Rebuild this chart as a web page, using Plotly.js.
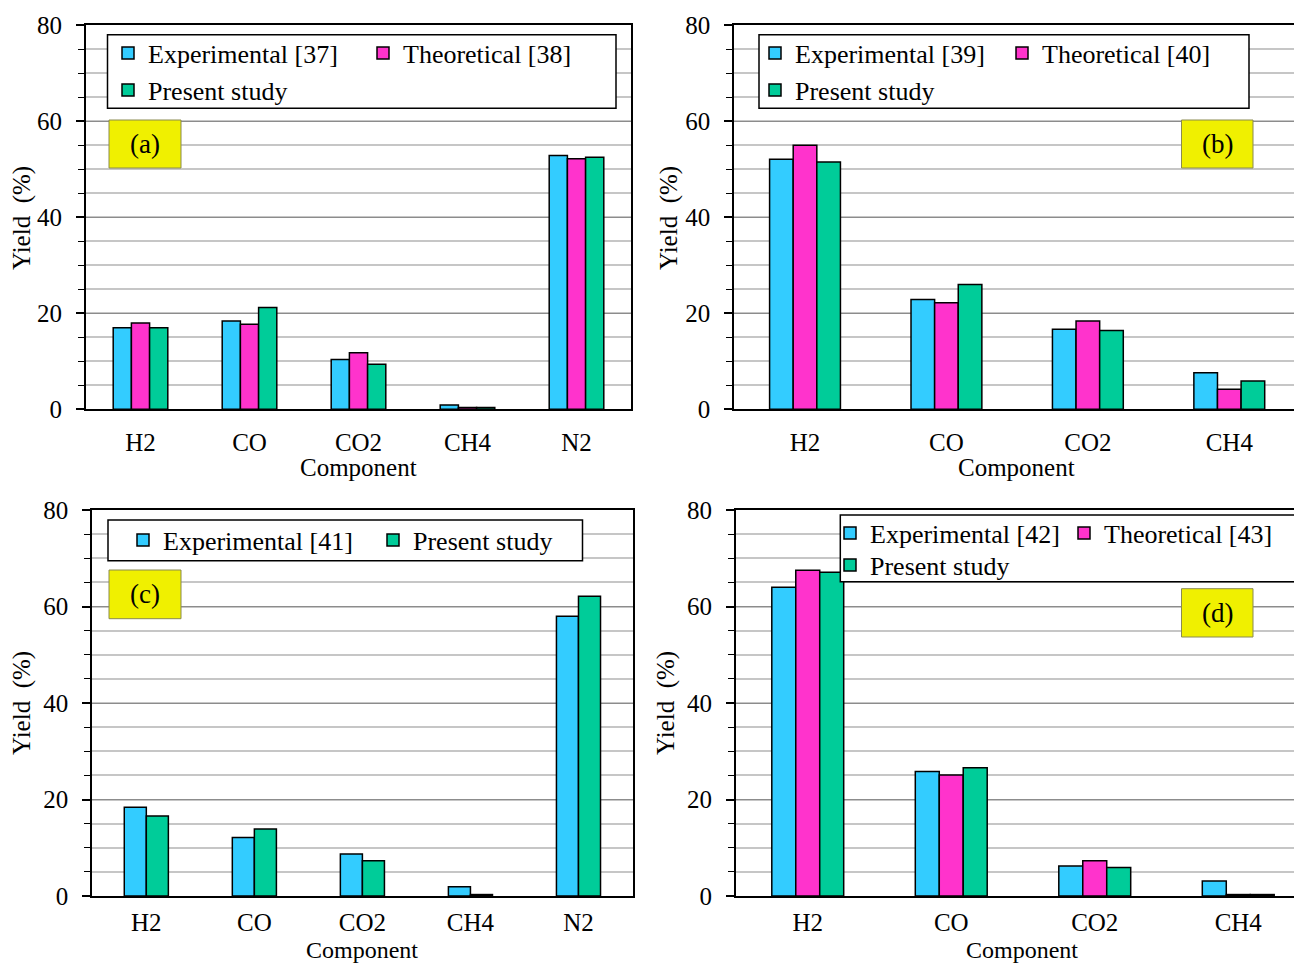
<!DOCTYPE html>
<html>
<head>
<meta charset="utf-8">
<script src="https://cdn.plot.ly/plotly-3.0.1.min.js"></script>
<style>
html, body { margin: 0; padding: 0; overflow: hidden; background: #fff; }
#chart { width: 1310px; height: 963px; }
</style>
</head>
<body>
<div id="chart"></div>
<script>
// ---------- data ----------
const catsA = ['H2', 'CO', 'CO2', 'CH4', 'N2'];
const expA  = [17.0, 18.4, 10.4, 0.9, 52.9];
const theoA = [18.0, 17.7, 11.8, 0.4, 52.2];
const presA = [17.0, 21.2, 9.4, 0.4, 52.5];

const catsB = ['H2', 'CO', 'CO2', 'CH4'];
const expB  = [52.1, 22.9, 16.7, 7.6];
const theoB = [55.0, 22.2, 18.4, 4.2];
const presB = [51.5, 26.0, 16.4, 5.9];

const catsC = ['H2', 'CO', 'CO2', 'CH4', 'N2'];
const expC  = [18.4, 12.1, 8.7, 1.9, 58.0];
const presC = [16.6, 13.9, 7.3, 0.3, 62.1];

const catsD = ['H2', 'CO', 'CO2', 'CH4'];
const expD  = [64.0, 25.8, 6.2, 3.1];
const theoD = [67.5, 25.1, 7.3, 0.3];
const presD = [67.1, 26.6, 5.9, 0.3];

const namesA = ['Experimental [37]', 'Theoretical [38]', 'Present study'];
const namesB = ['Experimental [39]', 'Theoretical [40]', 'Present study'];
const namesC = ['Experimental [41]', 'Present study'];
const namesD = ['Experimental [42]', 'Theoretical [43]', 'Present study'];
const panelLabels = ['(a)', '(b)', '(c)', '(d)'];
const xTitle = 'Component';
const yTitle = 'Yield\u00a0\u00a0(%)';
const yTicks = [0, 20, 40, 60, 80];

// ---------- style ----------
const W = 1310, H = 963;
const fx = p => p / W;
const fy = p => 1 - p / H;
const FONT = '"Liberation Serif", "Times New Roman", Times, "DejaVu Serif", serif';
const C_EXP = '#33CCFF', C_THEO = '#FF33CC', C_PRES = '#00CC99';
const outline = {color: '#000', width: 1.5};

function bar(x, y, name, color, xa, ya, legend, width, offset) {
  return {type: 'bar', x: x, y: y, name: name, xaxis: xa, yaxis: ya,
    legend: legend, width: width, offset: offset, showlegend: true,
    marker: {color: color, line: outline}, hoverinfo: 'x+y+name'};
}
const w3 = 0.167, w2 = 0.204;
const traces = [
  bar(catsA, expA,  namesA[0], C_EXP,  'x',  'y',  'legend',  w3, -1.5 * w3),
  bar(catsA, theoA, namesA[1], C_THEO, 'x',  'y',  'legend2', w3, -0.5 * w3),
  bar(catsA, presA, namesA[2], C_PRES, 'x',  'y',  'legend3', w3, 0.5 * w3),
  bar(catsB, expB,  namesB[0], C_EXP,  'x2', 'y2', 'legend4', w3, -1.5 * w3),
  bar(catsB, theoB, namesB[1], C_THEO, 'x2', 'y2', 'legend5', w3, -0.5 * w3),
  bar(catsB, presB, namesB[2], C_PRES, 'x2', 'y2', 'legend6', w3, 0.5 * w3),
  bar(catsC, expC,  namesC[0], C_EXP,  'x3', 'y3', 'legend7', w2, -w2),
  bar(catsC, presC, namesC[1], C_PRES, 'x3', 'y3', 'legend8', w2, 0),
  bar(catsD, expD,  namesD[0], C_EXP,  'x4', 'y4', 'legend9', w3, -1.5 * w3),
  bar(catsD, theoD, namesD[1], C_THEO, 'x4', 'y4', 'legend10', w3, -0.5 * w3),
  bar(catsD, presD, namesD[2], C_PRES, 'x4', 'y4', 'legend11', w3, 0.5 * w3)
];

function xax(domain, n, anchor, standoff) {
  return {domain: domain, anchor: anchor, type: 'category', range: [-0.5, n - 0.5],
    showline: true, linecolor: '#000', linewidth: 2, mirror: true,
    ticks: '', showgrid: false, zeroline: false, ticklabelstandoff: standoff,
    tickfont: {family: FONT, size: 25, color: '#000'}};
}
function yax(domain, anchor) {
  return {domain: domain, anchor: anchor, range: [0, 80], tickvals: yTicks,
    showline: true, linecolor: '#000', linewidth: 2, mirror: true,
    ticks: 'outside', ticklen: 8, tickwidth: 1.5, tickcolor: '#000',
    ticklabelstandoff: 9, zeroline: false,
    showgrid: true, gridcolor: '#8c8c8c', gridwidth: 1.3,
    minor: {dtick: 5, ticks: 'outside', ticklen: 6, tickwidth: 1.3, tickcolor: '#000',
            showgrid: true, gridcolor: '#c6c6c6', gridwidth: 1.5},
    tickfont: {family: FONT, size: 25, color: '#000'}};
}

function leg(textX, rowY) {
  return {x: fx(textX - 40), xanchor: 'left', y: fy(rowY), yanchor: 'middle',
    bgcolor: 'rgba(0,0,0,0)', borderwidth: 0, orientation: 'v', visible: true,
    font: {family: FONT, size: 26, color: '#000'}, itemclick: false, itemdoubleclick: false};
}

function rect(x0, x1, y0, y1, fill, line, lw) {
  return {type: 'rect', xref: 'paper', yref: 'paper', layer: 'above',
    x0: fx(x0), x1: fx(x1), y0: fy(y1), y1: fy(y0),
    fillcolor: fill, line: {color: line, width: lw}};
}
function label(text, cx, cy, size, angle) {
  return {xref: 'paper', yref: 'paper', x: fx(cx), y: fy(cy),
    xanchor: 'center', yanchor: 'middle', showarrow: false, text: text,
    textangle: angle || 0,
    font: {family: FONT, size: size, color: '#000'}};
}

const layout = {
  width: W, height: H, margin: {l: 0, r: 0, t: 0, b: 0},
  showlegend: true,
  paper_bgcolor: '#fff', plot_bgcolor: '#fff', barmode: 'overlay',
  font: {family: FONT, size: 25, color: '#000'},
  xaxis:  xax([fx(86), fx(631)], catsA.length, 'y', 10),
  yaxis:  yax([fy(409.3), fy(25.3)], 'x'),
  xaxis2: xax([fx(734.3), fx(1300)], catsB.length, 'y2', 10),
  yaxis2: yax([fy(409.3), fy(25.3)], 'x2'),
  xaxis3: xax([fx(92.3), fx(632.5)], catsC.length, 'y3', 3),
  yaxis3: yax([fy(896), fy(510)], 'x3'),
  xaxis4: xax([fx(736), 1], catsD.length, 'y4', 3),
  yaxis4: yax([fy(896), fy(510)], 'x4'),
  legend:   leg(148, 53),
  legend2:  leg(403, 53),
  legend3:  leg(148, 90),
  legend4:  leg(795, 53),
  legend5:  leg(1042, 53),
  legend6:  leg(795, 90),
  legend7:  leg(163, 540),
  legend8:  leg(413, 540),
  legend9:  leg(870, 533),
  legend10: leg(1104, 533),
  legend11: leg(870, 565),
  shapes: [
    rect(107.5, 616, 34.7, 108.3, '#fff', '#000', 1.5),
    rect(759, 1249, 34.7, 108.3, '#fff', '#000', 1.5),
    rect(108, 582.5, 520, 560.7, '#fff', '#000', 1.5),
    rect(840.3, 1330, 515, 581.7, '#fff', '#000', 1.5),
    rect(109, 181, 120, 168, '#f0f000', '#8a8a50', 1),
    rect(1181.5, 1253, 120, 168, '#f0f000', '#8a8a50', 1),
    rect(109, 181, 570, 618.7, '#f0f000', '#8a8a50', 1),
    rect(1181.5, 1253, 588.7, 637, '#f0f000', '#8a8a50', 1)
  ],
  annotations: [
    label(panelLabels[0], 145, 144, 27),
    label(panelLabels[1], 1217, 144, 27),
    label(panelLabels[2], 145, 594, 27),
    label(panelLabels[3], 1217, 613, 27),
    label(xTitle, 358, 467, 25),
    label(xTitle, 1016, 467, 25),
    label(xTitle, 362, 950, 24),
    label(xTitle, 1022, 950, 24),
    label(yTitle, 22, 218, 25, -90),
    label(yTitle, 669, 218, 25, -90),
    label(yTitle, 22, 703, 25, -90),
    label(yTitle, 666, 703, 25, -90)
  ]
};

Plotly.newPlot('chart', traces, layout, {displayModeBar: false, responsive: false});
</script>
</body>
</html>
